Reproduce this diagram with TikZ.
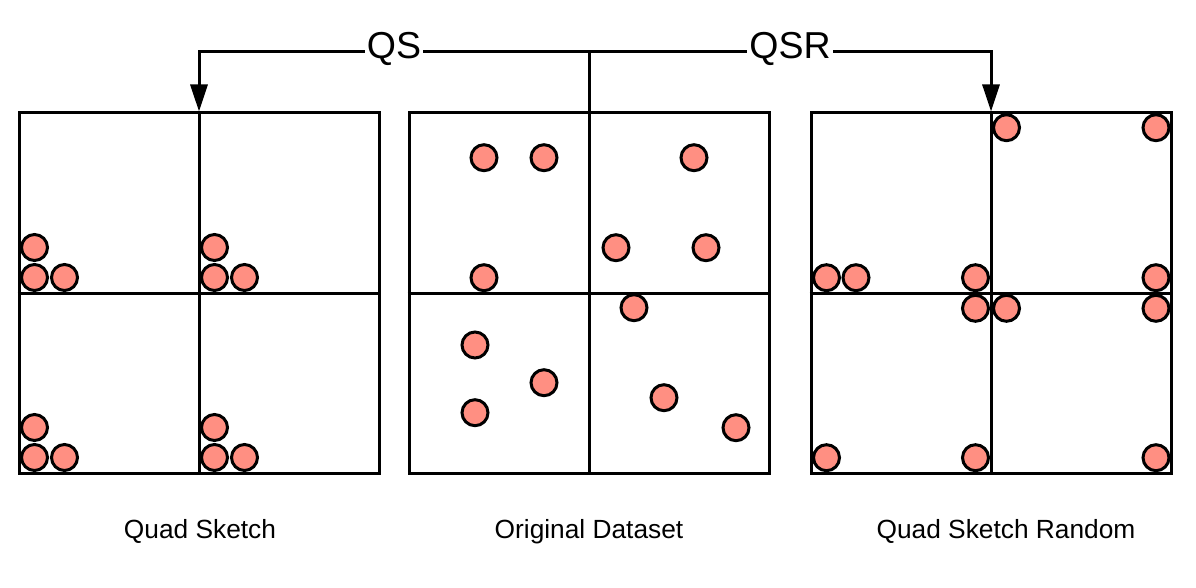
\documentclass[tikz,border=0pt]{standalone}
\usepackage{fontspec}
\setmainfont{Liberation Sans}
\usetikzlibrary{arrows.meta}
\definecolor{dotfill}{RGB}{255,143,130}
\tikzset{
  quadbox/.style={draw, line width=3pt, minimum width=360pt, minimum height=360pt, inner sep=0pt},
  divline/.style={line width=3pt},
  dot/.style={circle, draw, line width=3pt, fill=dotfill, minimum size=26pt, inner sep=0pt},
  conn/.style={line width=3pt},
  arrowconn/.style={line width=3pt, -{Triangle[length=27pt,width=17pt]}},
  toplabel/.style={fill=white, inner sep=2pt, font=\fontsize{37.5}{40}\selectfont, anchor=base, yshift=-6.8pt},
  caption/.style={font=\fontsize{26.3}{30}\selectfont, anchor=base}
}
\begin{document}
\begin{tikzpicture}[x=1pt,y=-1pt]
\useasboundingbox (0,0) rectangle (1196,588);
% boxes
\node[quadbox] (qs) at (199,293) {};
\node[quadbox] (orig) at (589,293) {};
\node[quadbox] (qsr) at (991,293) {};
\foreach \b in {qs,orig,qsr}{
  \draw[divline] (\b.north) -- (\b.south);
  \draw[divline] (\b.west) -- (\b.east);
}
% connectors
\coordinate (junc) at (589,51.7);
\draw[conn] (orig.north) -- (junc);
\draw[arrowconn] (junc) -| node[toplabel, pos=0.25] (qslab) {QS} (qs.north);
\draw[arrowconn] (junc) -| node[toplabel, pos=0.25] (qsrlab) {QSR} (qsr.north);
% Quad Sketch dots
\foreach [count=\i] \p in {(34.5,277.5),(64.5,277.5),(34.5,247.5),
  (214.5,277.5),(244.5,277.5),(214.5,247.5),
  (34.5,457.5),(64.5,457.5),(34.5,427.5),
  (214.5,457.5),(244.5,457.5),(214.5,427.5)}
  \node[dot] (l\i) at \p {};
% Original dataset dots
\foreach [count=\i] \p in {(484,157.7),(544,157.7),(694,157.7),
  (616,247.7),(706,247.7),(484,277.7),(634,307.7),
  (475,345),(544,382.7),(475,412.7),(664,397.7),(736,427.7)}
  \node[dot] (m\i) at \p {};
% Quad Sketch Random dots
\foreach [count=\i] \p in {(1006.5,127.7),(1156,127.7),
  (826.5,277.7),(856,277.7),(975.5,277.7),(1156,277.7),
  (975.5,308.3),(1006.5,308.3),(1156,308.3),
  (826.5,457.7),(975.5,457.7),(1156,457.7)}
  \node[dot] (r\i) at \p {};
% captions
\node[caption] (capqs) at (200,538) {Quad Sketch};
\node[caption] (caporig) at (589,538) {Original Dataset};
\node[caption] (capqsr) at (1006,538) {Quad Sketch Random};
\end{tikzpicture}
\end{document}
